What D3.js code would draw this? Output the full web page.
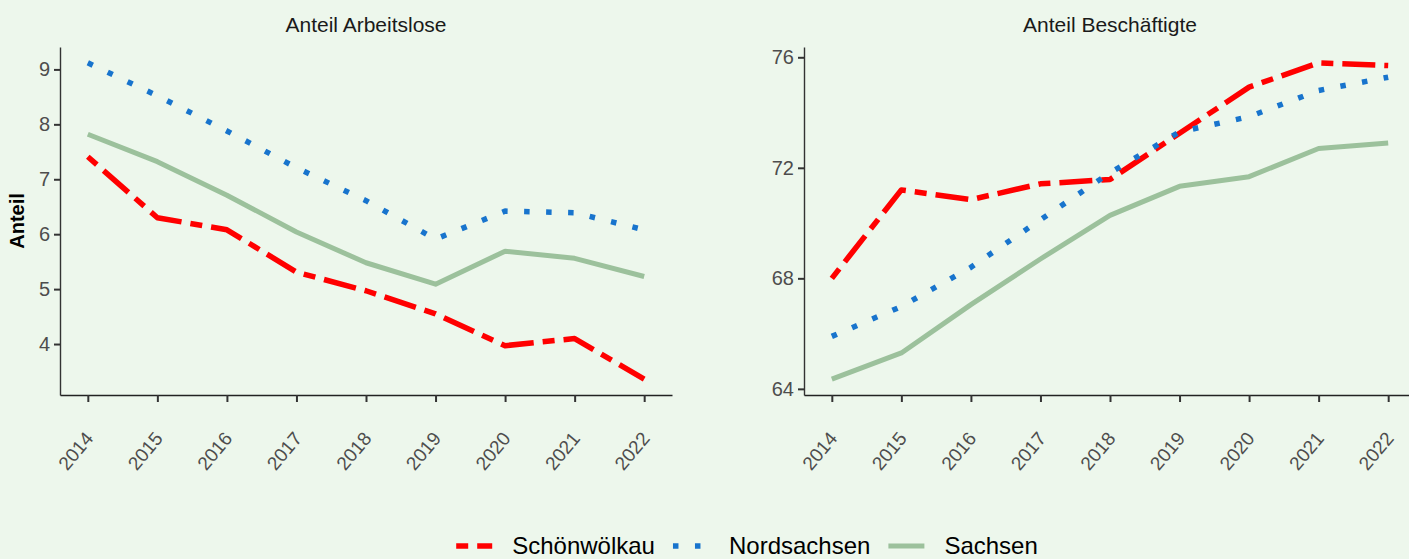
<!DOCTYPE html>
<html lang="de">
<head>
<meta charset="utf-8">
<title>Anteil Arbeitslose / Beschäftigte</title>
<script src="https://cdn.jsdelivr.net/npm/d3@7"></script>
<style>
  body { margin: 0; background: #EDF7EC; }
  svg { display: block; font-family: "Liberation Sans", Arial, sans-serif; }
  .tick-label { fill: #4d4d4d; }
  .panel-title { fill: #1a1a1a; font-size: 21px; }
</style>
</head>
<body>
<svg id="chart"></svg>
<script>
// ---- data ----
var years = [2014, 2015, 2016, 2017, 2018, 2019, 2020, 2021, 2022];

var arbeitsloseSchoenwoelkau = [7.41, 6.30, 6.08, 5.31, 4.97, 4.55, 3.97, 4.10, 3.36];
var arbeitsloseNordsachsen   = [9.12, 8.52, 7.88, 7.21, 6.61, 5.91, 6.42, 6.39, 6.08];
var arbeitsloseSachsen       = [7.82, 7.32, 6.71, 6.04, 5.48, 5.09, 5.69, 5.56, 5.23];

var beschaeftigteSchoenwoelkau = [68.0, 71.2, 70.85, 71.42, 71.58, 73.25, 74.92, 75.8, 75.7];
var beschaeftigteNordsachsen   = [65.9, 66.98, 68.4, 70.12, 71.82, 73.3, 73.85, 74.8, 75.28];
var beschaeftigteSachsen       = [64.35, 65.3, 67.05, 68.7, 70.28, 71.33, 71.68, 72.7, 72.9];

var regions = ["Schönwölkau", "Nordsachsen", "Sachsen"];
var ticksArbeitslose = [4, 5, 6, 7, 8, 9];
var ticksBeschaeftigte = [64, 68, 72, 76];

// line styles per region (ggplot twodash / dotted / solid)
var styles = {
  "Schönwölkau": {color: "#FF0000", width: 5.5, dash: "12,9,33,9"},
  "Nordsachsen": {color: "#1874CD", width: 5.5, dash: "5.5,16.5"},
  "Sachsen":     {color: "#9CC19C", width: 5,   dash: null}
};

var W = 1409, H = 559;
var svg = d3.select("#chart").attr("width", W).attr("height", H);

// pad a domain by 5% on each side like ggplot does
function expand(ext) {
  var pad = (ext[1] - ext[0]) * 0.05;
  return [ext[0] - pad, ext[1] + pad];
}

function drawPanel(left, title, series, ticks, showYLabel) {
  var top = 47, bottom = 395, width = 612;

  var x = d3.scaleLinear()
    .domain(expand(d3.extent(years)))
    .range([left, left + width]);

  var all = [].concat.apply([], series.map(function(s) { return s.values; }));
  var y = d3.scaleLinear()
    .domain(expand(d3.extent(all)))
    .range([bottom, top]);

  var g = svg.append("g");

  // title
  g.append("text")
    .attr("class", "panel-title")
    .attr("x", left + width / 2)
    .attr("y", 32)
    .attr("text-anchor", "middle")
    .text(title);

  // lines
  var line = d3.line()
    .x(function(d) { return x(d.year); })
    .y(function(d) { return y(d.value); });

  series.forEach(function(s) {
    var st = styles[s.name];
    var pts = years.map(function(yr, i) { return {year: yr, value: s.values[i]}; });
    g.append("path")
      .datum(pts)
      .attr("d", line)
      .attr("fill", "none")
      .attr("stroke", st.color)
      .attr("stroke-width", st.width)
      .attr("stroke-dasharray", st.dash)
      .attr("stroke-linejoin", "round")
      .attr("stroke-linecap", "butt");
  });

  // y axis
  var yAxis = g.append("g")
    .attr("transform", "translate(" + left + ",0)")
    .call(d3.axisLeft(y).tickValues(ticks).tickFormat(d3.format("d"))
      .tickSizeInner(6).tickSizeOuter(0).tickPadding(4));
  yAxis.select(".domain").attr("stroke", "#333").attr("stroke-width", 1.4);
  yAxis.selectAll(".tick line").attr("stroke", "#333").attr("stroke-width", 2);
  yAxis.selectAll(".tick text")
    .attr("class", "tick-label")
    .attr("font-family", null)
    .style("font-size", "20px");

  // x axis
  var xAxis = g.append("g")
    .attr("transform", "translate(0," + bottom + ")")
    .call(d3.axisBottom(x).tickValues(years).tickFormat(d3.format("d"))
      .tickSizeInner(7).tickSizeOuter(0));
  xAxis.select(".domain").attr("stroke", "#222").attr("stroke-width", 1.4);
  xAxis.selectAll(".tick line").attr("stroke", "#333").attr("stroke-width", 2);
  xAxis.selectAll(".tick text")
    .attr("class", "tick-label")
    .attr("font-family", null)
    .style("font-size", "19px")
    .attr("y", 0).attr("dy", null)
    .attr("text-anchor", "end")
    .attr("transform", "translate(6,44) rotate(-50)");

  if (showYLabel) {
    g.append("text")
      .attr("transform", "translate(24," + (top + bottom) / 2 + ") rotate(-90)")
      .attr("text-anchor", "middle")
      .attr("font-weight", "bold")
      .attr("font-size", "20px")
      .attr("fill", "#000")
      .text("Anteil");
  }
}

drawPanel(60, "Anteil Arbeitslose", [
  {name: regions[0], values: arbeitsloseSchoenwoelkau},
  {name: regions[1], values: arbeitsloseNordsachsen},
  {name: regions[2], values: arbeitsloseSachsen}
], ticksArbeitslose, true);

drawPanel(804, "Anteil Beschäftigte", [
  {name: regions[0], values: beschaeftigteSchoenwoelkau},
  {name: regions[1], values: beschaeftigteNordsachsen},
  {name: regions[2], values: beschaeftigteSachsen}
], ticksBeschaeftigte, false);

// legend at the bottom, centred under the plots
var legend = svg.append("g");
var keyLen = 36, keyGap = 20, itemGap = 18, legendY = 546;
var xPos = 0;
regions.forEach(function(name) {
  var st = styles[name];
  var item = legend.append("g").attr("transform", "translate(" + xPos + ",0)");
  item.append("line")
    .attr("x1", 0).attr("x2", keyLen)
    .attr("y1", legendY).attr("y2", legendY)
    .attr("stroke", st.color)
    .attr("stroke-width", st.width)
    .attr("stroke-dasharray", st.dash);
  var t = item.append("text")
    .attr("x", keyLen + keyGap)
    .attr("y", legendY + 8)
    .attr("font-size", "24px")
    .attr("fill", "#000")
    .text(name);
  xPos += keyLen + keyGap + t.node().getComputedTextLength() + itemGap;
});
var legendW = xPos - itemGap;
legend.attr("transform", "translate(" + (747 - legendW / 2) + ",0)");
</script>
</body>
</html>
